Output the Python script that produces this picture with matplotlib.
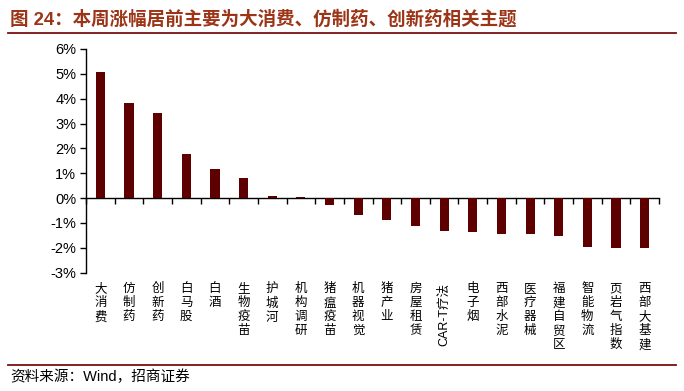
import matplotlib
matplotlib.use("Agg")
import matplotlib.pyplot as plt
from matplotlib.lines import Line2D

plt.rcParams['font.family'] = ['Liberation Sans', 'Noto Sans CJK SC', 'DejaVu Sans']

# --------------------------------------------------
# Data (weekly change, %)
# --------------------------------------------------
themes = ["大消费", "仿制药", "创新药", "白马股", "白酒", "生物疫苗", "护城河",
          "机构调研", "猪瘟疫苗", "机器视觉", "猪产业", "房屋租赁", "CAR-T疗法",
          "电子烟", "西部水泥", "医疗器械", "福建自贸区", "智能物流", "页岩气指数",
          "西部大基建"]
changes = [5.08, 3.83, 3.43, 1.77, 1.17, 0.82, 0.09, 0.05, -0.28, -0.67,
           -0.87, -1.12, -1.33, -1.37, -1.44, -1.44, -1.52, -1.96, -2.00, -2.00]
y_ticks = [-3, -2, -1, 0, 1, 2, 3, 4, 5, 6]

title = "图 24：本周涨幅居前主要为大消费、仿制药、创新药相关主题"
source = "资料来源：Wind，招商证券"

# --------------------------------------------------
# Figure
# --------------------------------------------------
fig = plt.figure(figsize=(6.84, 3.91), dpi=100)
ax = fig.add_axes([0.1257, 0.3026, 0.8378, 0.5721])

x = range(len(themes))
ax.bar(x, changes, width=0.32, color="#5f0000", zorder=3)

ax.set_xlim(-0.5, len(themes) - 0.5)
ax.set_ylim(-3, 6)
ax.set_yticks(y_ticks)
ax.set_yticklabels([f"{v}%" for v in y_ticks], fontsize=10.5)
ax.tick_params(axis="y", direction="out", length=4, width=1, pad=3)

ax.spines["top"].set_visible(False)
ax.spines["right"].set_visible(False)
ax.spines["bottom"].set_position(("data", 0))
ax.spines["left"].set_linewidth(1)
ax.spines["bottom"].set_linewidth(1)

# ticks between categories, labels drawn separately below the plot
ax.set_xticks([i + 0.5 for i in range(-1, len(themes))])
ax.set_xticklabels([])
ax.tick_params(axis="x", direction="out", length=4, width=1)

for i, name in enumerate(themes):
    if name.startswith("CAR"):
        ax.annotate(name, xy=(i, 0), xycoords=("data", "axes fraction"),
                    xytext=(0, -7.5), textcoords="offset points",
                    ha="center", va="top", rotation=90, fontsize=9)
    else:
        ax.annotate("\n".join(name), xy=(i, 0), xycoords=("data", "axes fraction"),
                    xytext=(0, -7.5), textcoords="offset points",
                    ha="center", va="top", fontsize=9, linespacing=1.22)

# --------------------------------------------------
# Title, rules and source
# --------------------------------------------------
fig.text(10 / 684, 1 - 19 / 391, title, fontsize=13.3, fontweight="bold",
         color="#9c3517", va="center", ha="left")
fig.add_artist(Line2D([8 / 684, 676 / 684], [1 - 33 / 391, 1 - 33 / 391],
                      color="#7a1010", lw=1.3))
fig.add_artist(Line2D([8 / 684, 676 / 684], [1 - 365 / 391, 1 - 365 / 391],
                      color="#7a1010", lw=1.3))
fig.text(10 / 684, 1 - 377 / 391, source, fontsize=10.5, va="center", ha="left")

fig.savefig("out.png", dpi=100)
